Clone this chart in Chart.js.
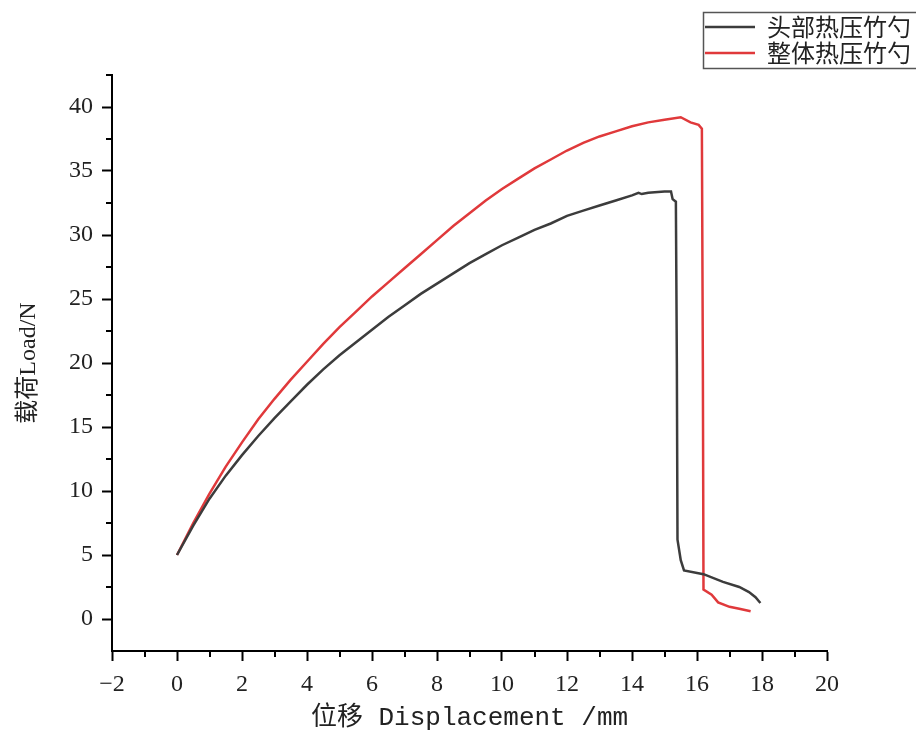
<!DOCTYPE html>
<html>
<head>
<meta charset="utf-8">
<script src="https://cdn.jsdelivr.net/npm/chart.js@4.4.0/dist/chart.umd.min.js"></script>
<style>
  html, body { margin: 0; padding: 0; background: #fff; }
  #wrap { width: 916px; height: 736px; }
</style>
</head>
<body>
<div id="wrap"><canvas id="loadChart" width="916" height="736"></canvas></div>
<script>
// ========== Dữ liệu ==========
var seriesNames = ["头部热压竹勺", "整体热压竹勺"];
var seriesColors = ["#3c3c3c", "#e0393b"];

// 头部热压竹勺
var headDisp = [0, 0.5, 1, 1.5, 2, 2.5, 3, 3.5, 4, 4.5, 5, 5.5, 6, 6.5, 7, 7.5, 8, 8.5, 9, 9.5,
    10, 10.5, 11, 11.5, 12, 12.5, 13, 13.5, 14, 14.2, 14.3, 14.5, 15.0, 15.2, 15.25, 15.35, 15.38,
    15.4, 15.5, 15.6, 16.2, 16.8, 17.3, 17.6, 17.8, 17.95];
var headLoad = [5.0, 7.3, 9.4, 11.2, 12.8, 14.3, 15.7, 17.0, 18.3, 19.5, 20.6, 21.6, 22.6, 23.6, 24.5, 25.4, 26.2, 27.0, 27.8, 28.5,
    29.2, 29.8, 30.4, 30.9, 31.5, 31.9, 32.3, 32.7, 33.1, 33.3, 33.2, 33.3, 33.4, 33.4, 32.8, 32.6, 20.0,
    6.2, 4.6, 3.8, 3.5, 2.9, 2.5, 2.1, 1.7, 1.25];

// 整体热压竹勺
var wholeDisp = [0, 0.5, 1, 1.5, 2, 2.5, 3, 3.5, 4, 4.5, 5, 5.5, 6, 6.5, 7, 7.5, 8, 8.5, 9, 9.5,
    10, 10.5, 11, 11.5, 12, 12.5, 13, 13.5, 14, 14.5, 15, 15.5, 15.8, 16.05, 16.15, 16.18,
    16.2, 16.45, 16.65, 17.0, 17.3, 17.65];
var wholeLoad = [5.0, 7.5, 9.8, 11.9, 13.8, 15.6, 17.2, 18.7, 20.1, 21.5, 22.8, 24.0, 25.2, 26.3, 27.4, 28.5, 29.6, 30.7, 31.7, 32.7,
    33.6, 34.4, 35.2, 35.9, 36.6, 37.2, 37.7, 38.1, 38.5, 38.8, 39.0, 39.2, 38.8, 38.6, 38.3, 20.0,
    2.3, 1.9, 1.3, 0.95, 0.8, 0.6];

var xTicks = [-2, 0, 2, 4, 6, 8, 10, 12, 14, 16, 18, 20];
var xMinorTicks = [-1, 1, 3, 5, 7, 9, 11, 13, 15, 17, 19];
var yTicks = [0, 5, 10, 15, 20, 25, 30, 35, 40];
var yMinorTicks = [2.5, 7.5, 12.5, 17.5, 22.5, 27.5, 32.5, 37.5, 42.5];

function toPoints(xs, ys) {
    return xs.map(function (x, i) { return { x: x, y: ys[i] }; });
}

var tickFont = { family: '"Liberation Serif", "DejaVu Serif", serif', size: 24 };

// vạch chia phụ (minor ticks)
var minorTickPlugin = {
    id: "minorTicks",
    afterDraw: function (chart) {
        var ctx = chart.ctx;
        var xs = chart.scales.x, ys = chart.scales.y;
        var area = chart.chartArea;
        ctx.save();
        ctx.strokeStyle = "#000";
        ctx.lineWidth = 2;
        ctx.beginPath();
        xMinorTicks.forEach(function (v) {
            var px = Math.round(xs.getPixelForValue(v));
            ctx.moveTo(px, area.bottom);
            ctx.lineTo(px, area.bottom + 6);
        });
        yMinorTicks.forEach(function (v) {
            var py = Math.round(ys.getPixelForValue(v));
            ctx.moveTo(area.left, py);
            ctx.lineTo(area.left - 6, py);
        });
        ctx.stroke();
        ctx.restore();
    }
};

// chú thích (legend) có khung
var boxLegendPlugin = {
    id: "boxLegend",
    afterDraw: function (chart) {
        var ctx = chart.ctx;
        ctx.save();
        ctx.strokeStyle = "#555";
        ctx.lineWidth = 1.5;
        ctx.strokeRect(703.5, 12.5, 240, 56);
        ctx.font = '24px "Noto Sans CJK SC", sans-serif';
        ctx.textBaseline = "middle";
        chart.data.datasets.forEach(function (ds, i) {
            var y = 27 + i * 26;
            ctx.strokeStyle = ds.borderColor;
            ctx.lineWidth = 2.5;
            ctx.beginPath();
            ctx.moveTo(705, y);
            ctx.lineTo(755, y);
            ctx.stroke();
            ctx.fillStyle = "#222";
            ctx.fillText(ds.label, 767, y);
        });
        ctx.restore();
    }
};

new Chart(document.getElementById("loadChart"), {
    type: "line",
    data: {
        datasets: [{
            label: seriesNames[0],
            data: toPoints(headDisp, headLoad),
            borderColor: seriesColors[0],
            borderWidth: 2.5,
            pointRadius: 0,
            tension: 0
        }, {
            label: seriesNames[1],
            data: toPoints(wholeDisp, wholeLoad),
            borderColor: seriesColors[1],
            borderWidth: 2.5,
            pointRadius: 0,
            tension: 0
        }]
    },
    options: {
        responsive: false,
        animation: false,
        devicePixelRatio: 1,
        layout: { padding: { top: 75, right: 89, left: 0, bottom: 0 } },
        scales: {
            x: {
                type: "linear",
                min: -2,
                max: 20,
                afterBuildTicks: function (scale) {
                    scale.ticks = xTicks.map(function (v) { return { value: v }; });
                },
                afterFit: function (scale) { scale.height = 85; },
                ticks: {
                    color: "#222",
                    font: tickFont,
                    padding: 9,
                    maxRotation: 0,
                    autoSkip: false,
                    callback: function (v) { return v < 0 ? "\u2212" + Math.abs(v) : String(v); }
                },
                grid: { drawOnChartArea: false, tickLength: 10, tickWidth: 2, tickColor: "#000" },
                border: { color: "#000", width: 2 },
                title: {
                    display: true,
                    text: "位移 Displacement /mm",
                    color: "#222",
                    font: { family: '"Liberation Mono", "Noto Sans CJK SC", monospace', size: 26 },
                    padding: { top: 0, bottom: 2 }
                }
            },
            y: {
                type: "linear",
                min: -2.5,
                max: 42.5,
                afterBuildTicks: function (scale) {
                    scale.ticks = yTicks.map(function (v) { return { value: v }; });
                },
                afterFit: function (scale) { scale.width = 112; },
                ticks: { color: "#222", font: tickFont, padding: 9, autoSkip: false },
                grid: { drawOnChartArea: false, tickLength: 10, tickWidth: 2, tickColor: "#000" },
                border: { color: "#000", width: 2 },
                title: {
                    display: true,
                    text: "载荷Load/N",
                    color: "#222",
                    font: { family: '"Liberation Serif", "Noto Sans CJK SC", serif', size: 24 },
                    padding: { top: 14, bottom: 0 }
                }
            }
        },
        plugins: {
            legend: { display: false },
            tooltip: { enabled: false }
        }
    },
    plugins: [minorTickPlugin, boxLegendPlugin]
});
</script>
</body>
</html>
